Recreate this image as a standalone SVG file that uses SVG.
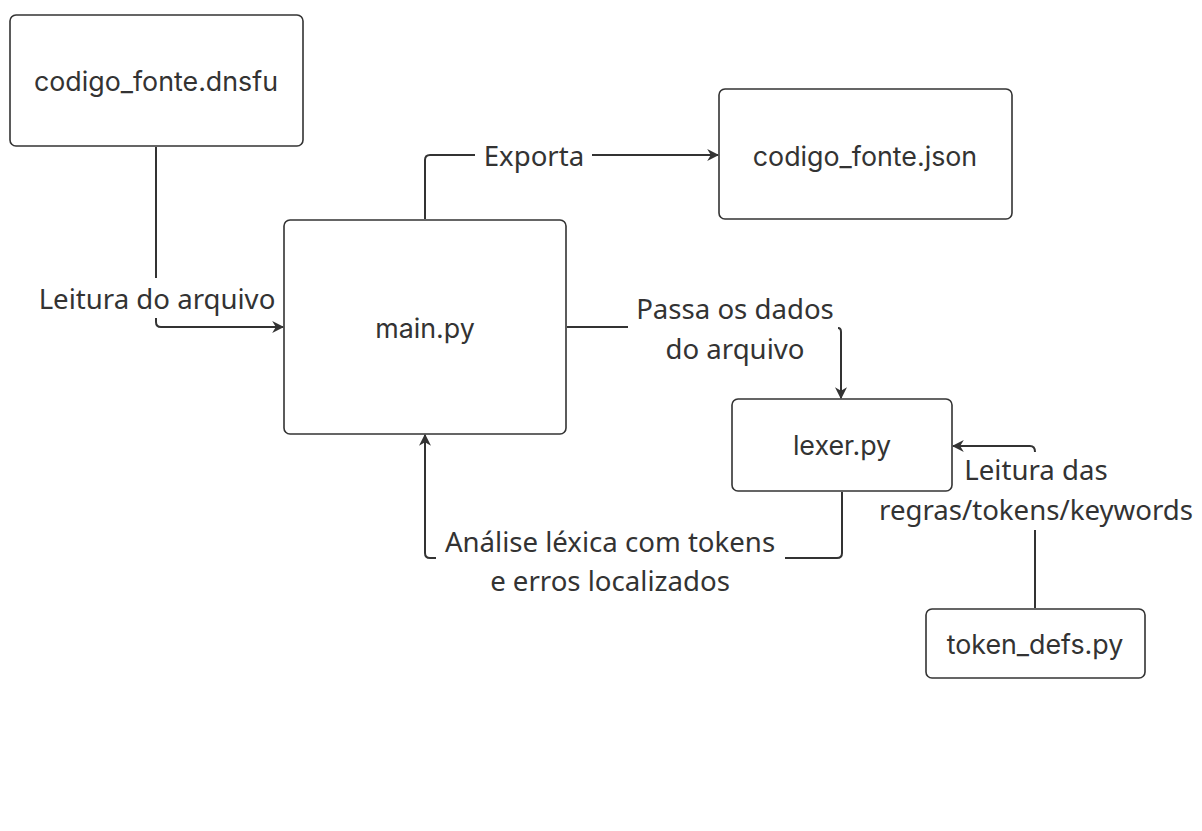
<svg xmlns="http://www.w3.org/2000/svg" width="1202" height="831" viewBox="0 0 1202 831">
<style>
.node rect{fill:#fff;stroke:#333;stroke-width:1.6}
.node text{font-family:Inter,"Noto Sans",sans-serif;font-size:26.8px;fill:#333;text-anchor:middle;dominant-baseline:central}
.edge{fill:none;stroke:#333;stroke-width:2}
.lbl{font-family:"Noto Sans","Open Sans",sans-serif;font-size:27.6px;fill:#333;text-anchor:middle;dominant-baseline:central}
</style>
<defs>
<marker id="ah" viewBox="0 0 10 10" refX="9" refY="5" markerWidth="12" markerHeight="12" orient="auto" markerUnits="userSpaceOnUse">
<path d="M0,0 L10,5 L0,10 L3,5 z" fill="#333"/>
</marker>
</defs>
<rect width="1202" height="831" fill="#fff"/>
<g id="connectors">
<path class="edge" d="M156,147 V278"/>
<path class="edge" d="M156,318 V322 Q156,327 161,327 H283" marker-end="url(#ah)"/>
<path class="edge" d="M425,219 V160 Q425,155 430,155 H475"/>
<path class="edge" d="M592,155 H718" marker-end="url(#ah)"/>
<path class="edge" d="M567,327 H628"/>
<path class="edge" d="M838,328 Q841,328 841,332 V398" marker-end="url(#ah)"/>
<path class="edge" d="M842,492 V553 Q842,558 837,558 H785"/>
<path class="edge" d="M436,558 H430 Q425,558 425,553 V435" marker-end="url(#ah)"/>
<path class="edge" d="M1035,608 V530"/>
<path class="edge" d="M1035,452 Q1035,446 1030,446 H953" marker-end="url(#ah)"/>
<text class="lbl" x="157" y="298">Leitura do arquivo</text>
<text class="lbl" x="534" y="155">Exporta</text>
<text class="lbl" x="735" y="308">Passa os dados</text>
<text class="lbl" x="735" y="348">do arquivo</text>
<text class="lbl" x="610" y="541">Análise léxica com tokens</text>
<text class="lbl" x="610" y="580">e erros localizados</text>
<text class="lbl" x="1036" y="469">Leitura das</text>
<text class="lbl" x="1036" y="509">regras/tokens/keywords</text>
</g>
<g id="node-codigo-dnsfu" class="node"><rect x="10" y="15" width="293" height="131" rx="6"/><text x="156" y="81">codigo_fonte.dnsfu</text></g>
<g id="node-main" class="node"><rect x="284" y="220" width="282" height="214" rx="6"/><text x="425" y="328">main.py</text></g>
<g id="node-codigo-json" class="node"><rect x="719" y="89" width="293" height="130" rx="6"/><text x="865" y="156">codigo_fonte.json</text></g>
<g id="node-lexer" class="node"><rect x="732" y="399" width="220" height="92" rx="6"/><text x="842" y="445">lexer.py</text></g>
<g id="node-token-defs" class="node"><rect x="926" y="609" width="219" height="69" rx="6"/><text x="1035" y="644">token_defs.py</text></g>
</svg>
